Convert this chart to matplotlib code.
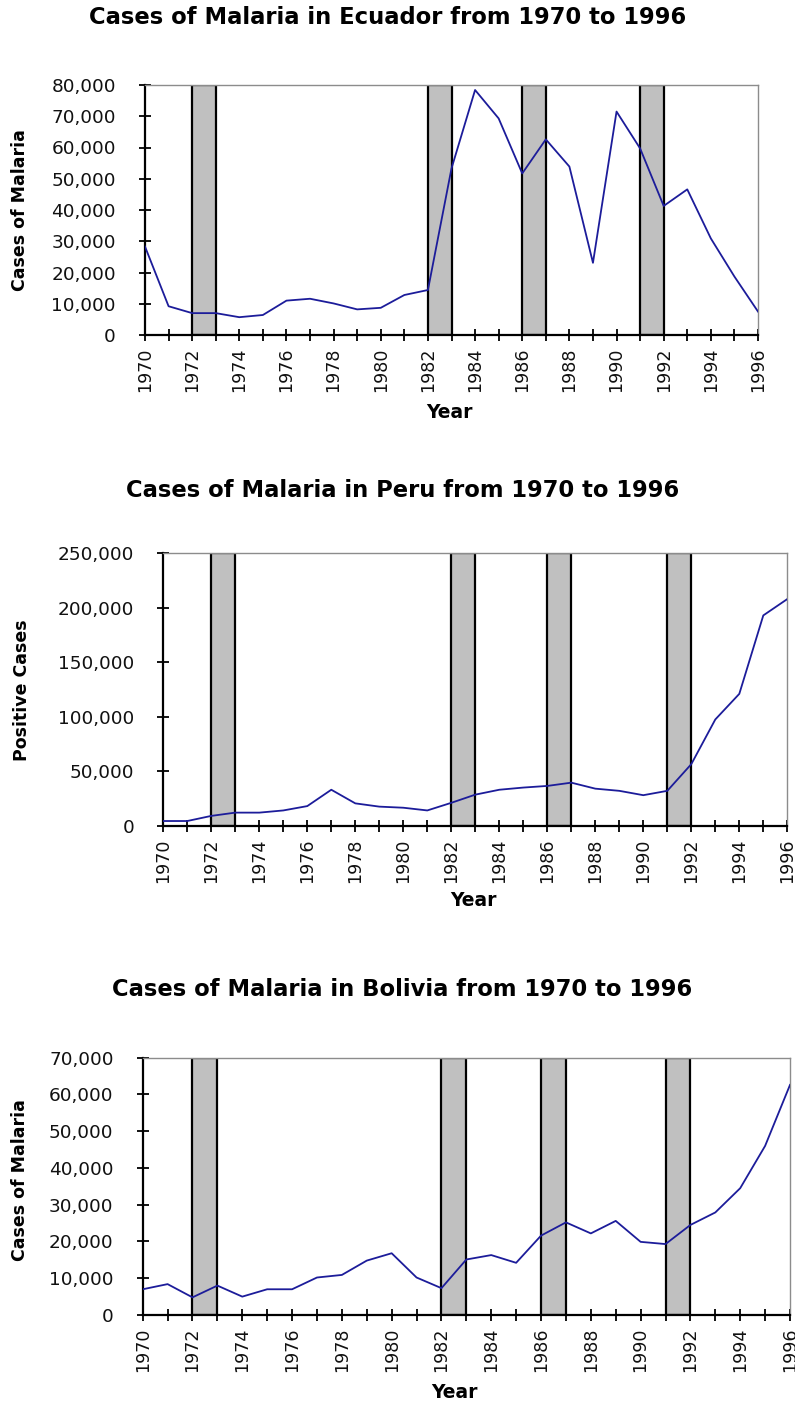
import matplotlib
matplotlib.use("Agg")
import matplotlib.pyplot as plt
from matplotlib.ticker import FuncFormatter, MultipleLocator

years = list(range(1970, 1997))
shaded_years = [1972, 1982, 1986, 1991]

ecuador = [28300, 9200, 7000, 7000, 5700, 6400, 11000, 11600, 10100, 8200,
           8700, 12800, 14400, 53300, 78400, 69300, 51700, 62600, 53900, 23100,
           71500, 59700, 41300, 46600, 30900, 18700, 7500]
peru = [4300, 4300, 9000, 12000, 12000, 14000, 18000, 33000, 20500, 17500,
        16500, 14000, 21000, 28500, 33000, 35000, 36500, 39500, 34000, 32000,
        28000, 32000, 56500, 97500, 121000, 193000, 208000]
bolivia = [7000, 8400, 4800, 8000, 5000, 7000, 7000, 10200, 10900, 14800,
           16800, 10200, 7300, 15100, 16300, 14200, 21600, 25200, 22200, 25600,
           19900, 19300, 24500, 27900, 34500, 46000, 62600]

W, H = 795, 1406
FONT = "DejaVu Sans"


def px_axes(fig, left, right, top, bottom):
    return fig.add_axes([left / W, 1 - bottom / H, (right - left) / W, (bottom - top) / H])


def panel(fig, box, values, ymax, ystep, ylabel, ylab_xy, xlab_xy):
    ax = px_axes(fig, *box)
    ax.bar(shaded_years, [ymax] * len(shaded_years), width=1, align="edge",
           color="#c0c0c0", edgecolor="black", linewidth=1.6, zorder=1)
    ax.plot(years, values, color="#1c1c9a", lw=1.3, zorder=3)
    ax.set_xlim(1970, 1996)
    ax.set_ylim(0, ymax)
    ax.xaxis.set_major_locator(MultipleLocator(2))
    ax.xaxis.set_minor_locator(MultipleLocator(1))
    ax.yaxis.set_major_locator(MultipleLocator(ystep))
    ax.yaxis.set_major_formatter(FuncFormatter(lambda v, p: f"{int(v):,}"))
    ax.tick_params(axis="both", which="both", direction="inout", color="black",
                   width=1.3, length=8, labelsize=13.3, labelcolor="#111111")
    ax.tick_params(axis="x", which="major", labelrotation=90, pad=5, labelsize=12.6)
    ax.tick_params(axis="y", pad=17)
    for lab in ax.get_xticklabels() + ax.get_yticklabels():
        lab.set_fontfamily(FONT)
    for s in ("left", "bottom"):
        ax.spines[s].set_color("black")
        ax.spines[s].set_linewidth(1.6)
    for s in ("top", "right"):
        ax.spines[s].set_color("#8c8c8c")
        ax.spines[s].set_linewidth(1.0)
    ax.set_ylabel(ylabel, fontsize=12.5, fontweight="bold", family=FONT, va="center")
    ax.yaxis.set_label_coords(*ylab_xy)
    ax.set_xlabel("Year", fontsize=13.5, fontweight="bold", family=FONT, va="center")
    ax.xaxis.set_label_coords(*xlab_xy)
    return ax


fig = plt.figure(figsize=(W / 100, H / 100), dpi=100)

panel(fig, (145, 758, 85, 335), ecuador, 80000, 10000, "Cases of Malaria",
      ((20 - 145) / 613, (335 - 210) / 250), ((449 - 145) / 613, (335 - 412) / 250))
panel(fig, (163.3, 787.3, 553.3, 825.7), peru, 250000, 50000, "Positive Cases",
      ((22 - 163.3) / 624, (825.7 - 690) / 272.4), ((473 - 163.3) / 624, (825.7 - 900) / 272.4))
panel(fig, (142.7, 790, 1057.7, 1315), bolivia, 70000, 10000, "Cases of Malaria",
      ((20 - 142.7) / 647.3, (1315 - 1180) / 257.3), ((454 - 142.7) / 647.3, (1315 - 1392) / 257.3))

titles = [
    ("Cases of Malaria in Ecuador from 1970 to 1996", 388, 18),
    ("Cases of Malaria in Peru from 1970 to 1996", 403, 490),
    ("Cases of Malaria in Bolivia from 1970 to 1996", 402, 990),
]
for text, x, y in titles:
    fig.text(x / W, 1 - y / H, text, ha="center", va="center", fontsize=16.3,
             fontweight="bold", family=FONT)

fig.savefig("out.png", dpi=100)
